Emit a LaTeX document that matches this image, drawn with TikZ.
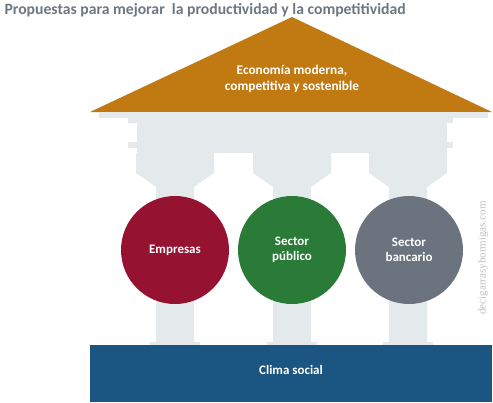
\documentclass[tikz,border=0pt]{standalone}
\usepackage{fontspec}
\setmainfont{Carlito}
\definecolor{techo}{HTML}{C17A12}
\definecolor{piedra}{HTML}{E4E9EC}
\definecolor{empresas}{HTML}{951231}
\definecolor{publico}{HTML}{2A7B38}
\definecolor{bancario}{HTML}{6B747E}
\definecolor{clima}{HTML}{1B5581}
\definecolor{titulo}{HTML}{6E7780}
\begin{document}
\begin{tikzpicture}[x=1pt, y=-1pt,
  pilar/.style={circle, minimum size=108pt, inner sep=0pt, text=white, font=\bfseries\fontsize{13}{15}\selectfont, align=center}]
\useasboundingbox (0,0) rectangle (493,402);
% Titulo
\node[anchor=west, text=titulo, font=\bfseries\fontsize{15.7}{18}\selectfont] (titulo) at (1,10) {Propuestas para mejorar\ \ la productividad y la competitividad};
% Techo
\fill[techo] (90,112) -- (292,17) -- (492,112) -- cycle;
\node[text=white, font=\bfseries\fontsize{13.3}{15.5}\selectfont, align=center] (techo) at (292,79) {Economía moderna,\\competitiva y sostenible};
% Entablamento
\fill[piedra] (99,112) rectangle (488,118);
\fill[piedra] (128,118) rectangle (453,123);
\fill[piedra] (137,123) rectangle (447,153);
\fill[piedra] (128,142) rectangle (453,148);
% Columnas
\foreach \cx in {175,292,408} {
  \fill[piedra] (\cx-39,153) -- (\cx+39,153) -- (\cx+39,173) -- (\cx+19,187)
    -- (\cx+19,345) -- (\cx-19,345) -- (\cx-19,187) -- (\cx-39,173) -- cycle;
  \fill[piedra] (\cx-25,342) rectangle (\cx+25,345);
}
% Pilares
\node[pilar, fill=empresas] (empresas) at (175,250) {Empresas};
\node[pilar, fill=publico] (publico) at (292,250) {Sector\\público};
\node[pilar, fill=bancario] (bancario) at (409,250) {Sector\\bancario};
% Base
\fill[clima] (90,345) rectangle (492,402);
\node[text=white, font=\bfseries\fontsize{13}{15}\selectfont] (clima) at (291,370) {Clima social};
% Marca
\node[rotate=90, text=black!25, font=\fontspec{Liberation Serif}\fontsize{11}{12}\selectfont] (marca) at (483,258) {decigarrasyhormigas.com};
\end{tikzpicture}
\end{document}
